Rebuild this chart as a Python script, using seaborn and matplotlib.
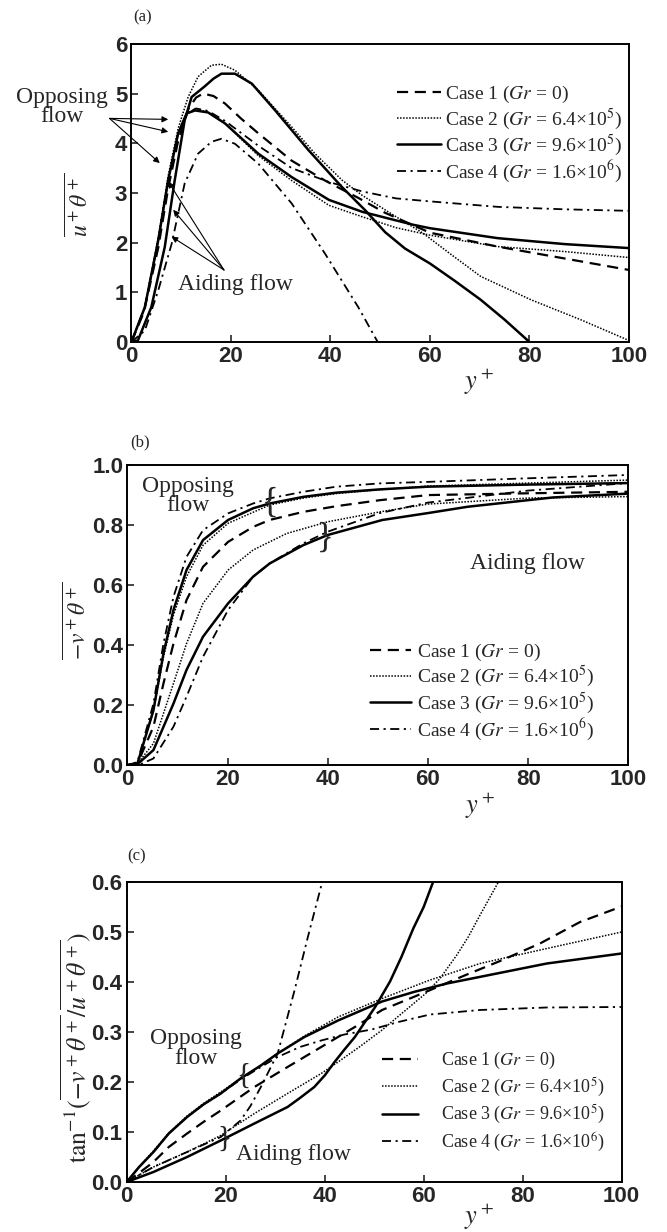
import matplotlib
matplotlib.use("Agg")
import matplotlib.pyplot as plt
import seaborn as sns
from matplotlib.lines import Line2D

# ---------------- data ----------------
# (a) u+theta+
a_c1_x = [0, 2.5, 5.4, 7.4, 9.4, 11.5, 13, 14.4, 16.5, 18.8, 22, 25.5, 32.2, 38.9, 45.6, 51, 60, 73.6, 87.1, 100]
a_c1_y = [0, 0.6, 1.9, 3.1, 4.05, 4.7, 4.92, 5.0, 4.95, 4.8, 4.5, 4.2, 3.65, 3.25, 2.9, 2.6, 2.2, 1.92, 1.68, 1.45]
a_c2o_x = [0, 2.7, 5.4, 7.4, 9.4, 11.1, 13, 15.4, 18.8, 25.5, 32.2, 39.7, 46.4, 53.2, 60, 73.6, 87.1, 100]
a_c2o_y = [0, 0.7, 2.1, 3.3, 4.2, 4.6, 4.7, 4.62, 4.4, 3.75, 3.25, 2.75, 2.52, 2.3, 2.15, 1.92, 1.82, 1.7]
a_c2a_x = [0, 2.7, 5.4, 7.4, 9.4, 11.4, 13.4, 16.1, 18.1, 20.8, 25.5, 32.2, 36.9, 42.3, 46.4, 53.2, 58.6, 64, 70.2, 80.3, 90.5, 100]
a_c2a_y = [0, 0.7, 2.05, 3.35, 4.3, 4.93, 5.34, 5.57, 5.59, 5.47, 5.07, 4.33, 3.79, 3.26, 2.95, 2.52, 2.19, 1.78, 1.32, 0.85, 0.44, 0.03]
a_c3o_x = [0, 2.7, 5.4, 7.4, 9.4, 11.1, 12.8, 15.4, 18.8, 25.5, 32.2, 39.7, 46.4, 56.6, 60, 73.6, 87.1, 100]
a_c3o_y = [0, 0.7, 2.05, 3.26, 4.2, 4.6, 4.66, 4.62, 4.4, 3.79, 3.32, 2.86, 2.62, 2.36, 2.29, 2.09, 1.97, 1.89]
a_c3a_x = [0, 1.3, 4.0, 6.7, 8.7, 10.7, 12.1, 14.8, 16.5, 18.1, 20.8, 24.2, 28.9, 35.6, 42.3, 47, 51, 55, 60, 65, 70.2, 75, 80]
a_c3a_y = [0, 0.03, 0.7, 1.91, 3.25, 4.46, 4.93, 5.15, 5.3, 5.4, 5.4, 5.2, 4.66, 3.86, 3.12, 2.65, 2.21, 1.88, 1.58, 1.23, 0.85, 0.45, 0]
a_c4o_x = [0, 2.7, 5.4, 7.4, 9.4, 11.1, 13, 15.4, 18.8, 25.5, 32.2, 39.7, 46.4, 53.2, 60, 73.6, 87.1, 100]
a_c4o_y = [0, 0.7, 2.05, 3.26, 4.2, 4.6, 4.7, 4.65, 4.45, 3.95, 3.5, 3.22, 3.03, 2.89, 2.83, 2.72, 2.67, 2.64]
a_c4a_x = [0, 2.7, 5.4, 8.1, 10.7, 13.4, 16.1, 18.1, 20.8, 25.5, 32.2, 38.9, 45.6, 49.5]
a_c4a_y = [0, 0.23, 1.04, 1.98, 3.19, 3.79, 4.03, 4.09, 3.99, 3.59, 2.79, 1.78, 0.7, 0]

# (b) -v+theta+
b_c1_x = [0, 2, 5.2, 7.2, 9.2, 11.8, 15.1, 20.1, 25.1, 28.4, 35.1, 41.7, 50.4, 60, 80, 100]
b_c1_y = [0, 0.005, 0.128, 0.272, 0.405, 0.55, 0.661, 0.744, 0.794, 0.817, 0.844, 0.863, 0.883, 0.9, 0.906, 0.911]
b_c2o_x = [0, 2, 5.2, 7.2, 9.2, 11.8, 15.1, 20.1, 28.4, 35.1, 41.7, 50.4, 60, 80, 100]
b_c2o_y = [0, 0.005, 0.18, 0.36, 0.5, 0.628, 0.733, 0.806, 0.867, 0.89, 0.905, 0.918, 0.93, 0.94, 0.95]
b_c2a_x = [0, 2, 5.2, 9.2, 11.8, 15.1, 20.1, 25.1, 31.8, 40, 50.4, 60, 80, 100]
b_c2a_y = [0, 0.005, 0.072, 0.272, 0.405, 0.539, 0.65, 0.717, 0.772, 0.811, 0.844, 0.87, 0.89, 0.895]
b_c3o_x = [0, 2, 5.2, 7.2, 9.2, 11.8, 15.1, 20.1, 25.1, 28.4, 35.1, 41.7, 50.4, 60, 80, 100]
b_c3o_y = [0, 0.005, 0.183, 0.372, 0.517, 0.65, 0.75, 0.817, 0.856, 0.872, 0.894, 0.908, 0.919, 0.928, 0.935, 0.94]
b_c3a_x = [0, 2, 5.2, 9.2, 11.8, 15.1, 20.1, 25.1, 28.4, 35.1, 40, 50.9, 60, 67.9, 84.9, 100]
b_c3a_y = [0, 0.003, 0.05, 0.205, 0.317, 0.428, 0.539, 0.628, 0.672, 0.733, 0.767, 0.817, 0.84, 0.861, 0.892, 0.905]
b_c4o_x = [0, 2, 5.2, 7.2, 9.2, 11.8, 15.1, 20.1, 25.1, 28.4, 35.1, 41.7, 50.4, 60, 80, 100]
b_c4o_y = [0, 0.01, 0.205, 0.405, 0.561, 0.694, 0.783, 0.839, 0.872, 0.889, 0.911, 0.928, 0.939, 0.944, 0.956, 0.967]
b_c4a_x = [0, 2.5, 5.2, 9.2, 11.8, 15.1, 20.1, 25.1, 28.4, 35.1, 40, 50.4, 60, 80, 100]
b_c4a_y = [0, 0.002, 0.022, 0.128, 0.228, 0.361, 0.517, 0.628, 0.672, 0.739, 0.778, 0.84, 0.875, 0.915, 0.94]

# (c) tan^-1(-v+theta+ / u+theta+)
c_c1_x = [0, 2.5, 5.4, 8.5, 12.2, 15.5, 19, 25.8, 32.5, 39.3, 46.1, 51.6, 60.4, 68.5, 75.2, 83.5, 91.6, 100]
c_c1_y = [0, 0.018, 0.04, 0.07, 0.097, 0.12, 0.143, 0.19, 0.23, 0.27, 0.31, 0.344, 0.38, 0.414, 0.441, 0.477, 0.52, 0.551]
c_c2o_x = [0, 2.5, 5.4, 8.5, 12.2, 15.5, 19, 23, 27.1, 30.5, 35.9, 42.7, 51.6, 61.3, 71.4, 84.9, 100]
c_c2o_y = [0, 0.03, 0.062, 0.098, 0.132, 0.157, 0.18, 0.207, 0.233, 0.257, 0.292, 0.33, 0.367, 0.404, 0.437, 0.467, 0.5]
c_c2a_x = [0, 5.4, 12.2, 19, 25.8, 32.5, 39.3, 42.7, 47, 51.6, 55.2, 60.4, 63.3, 66.7, 69, 71.4, 75.1]
c_c2a_y = [0, 0.03, 0.06, 0.093, 0.137, 0.177, 0.217, 0.24, 0.27, 0.304, 0.334, 0.377, 0.407, 0.454, 0.49, 0.534, 0.6]
c_c3o_x = [0, 2.5, 5.4, 8.5, 12.2, 15.5, 19, 23, 27.1, 30.5, 35.9, 42.7, 51.6, 58, 64.7, 74.8, 84.9, 100]
c_c3o_y = [0, 0.03, 0.06, 0.097, 0.13, 0.155, 0.177, 0.207, 0.233, 0.257, 0.29, 0.323, 0.361, 0.38, 0.397, 0.417, 0.437, 0.457]
c_c3a_x = [0, 5.4, 12.2, 19, 25.8, 32.5, 35, 37.9, 40, 42, 44, 46.1, 48, 50.2, 53.2, 55.5, 57.9, 60, 61.9]
c_c3a_y = [0, 0.02, 0.05, 0.083, 0.117, 0.15, 0.168, 0.19, 0.213, 0.24, 0.265, 0.29, 0.318, 0.35, 0.401, 0.45, 0.507, 0.55, 0.6]
c_c4o_x = [0, 2.5, 5.4, 8.5, 12.2, 15.5, 19, 23, 27.1, 30.5, 35, 39.3, 44, 49.5, 54.9, 61.3, 71.4, 84.9, 100]
c_c4o_y = [0, 0.03, 0.06, 0.097, 0.13, 0.155, 0.177, 0.205, 0.23, 0.25, 0.27, 0.283, 0.295, 0.305, 0.32, 0.335, 0.344, 0.349, 0.35]
c_c4a_x = [0, 5.4, 12.2, 19, 23, 25, 27.1, 30.5, 33.9, 36.6, 39.5]
c_c4a_y = [0, 0.03, 0.06, 0.09, 0.123, 0.152, 0.19, 0.257, 0.383, 0.49, 0.6]

case_labels = [
    r"Case 1 ($Gr$ = 0)",
    r"Case 2 ($Gr$ = 6.4×10$^5$)",
    r"Case 3 ($Gr$ = 9.6×10$^5$)",
    r"Case 4 ($Gr$ = 1.6×10$^6$)",
]

# ---------------- style ----------------
sns.set_theme(style="ticks")
plt.rcParams["font.family"] = ["Liberation Serif", "DejaVu Serif"]
plt.rcParams["mathtext.fontset"] = "stix"

styles = {
    1: dict(linestyle=(0, (5, 3)), linewidth=1.6),
    2: dict(linestyle=(0, (1, 1)), linewidth=1.1),
    3: dict(linestyle="-", linewidth=1.8),
    4: dict(linestyle=(0, (5, 2.5, 1.2, 2.5)), linewidth=1.3),
}

fig = plt.figure(figsize=(6.67, 12.32), dpi=100)
ax_a = fig.add_axes([0.197, 0.7224, 0.746, 0.242])
ax_b = fig.add_axes([0.191, 0.379, 0.751, 0.2435])
ax_c = fig.add_axes([0.190, 0.0406, 0.742, 0.2435])

tick_font = dict(family="Liberation Sans", weight="bold", size=16)


def draw(ax, curves):
    for case, xs, ys in curves:
        sns.lineplot(x=xs, y=ys, ax=ax, color="black", estimator=None,
                     **styles[case])


def style_axes(ax, ylim, yticks, yfmt):
    ax.set_xlim(0, 100)
    ax.set_ylim(*ylim)
    ax.set_xticks([0, 20, 40, 60, 80, 100])
    ax.set_yticks(yticks)
    ax.set_yticklabels([yfmt.format(v) for v in yticks], fontdict=tick_font)
    ax.set_xticklabels(["0", "20", "40", "60", "80", "100"], fontdict=tick_font)
    ax.tick_params(direction="in", length=5, width=1.2, pad=3,
                   top=False, right=False)
    for s in ax.spines.values():
        s.set_linewidth(1.4)
        s.set_color("black")
    ax.set_xlabel(r"$y^+$", fontsize=19)


def legend(ax, anchor, size, hlen, hpad, spacing):
    handles = [Line2D([], [], color="black", **styles[i]) for i in (1, 2, 3, 4)]
    ax.legend(handles, case_labels, loc="upper left", bbox_to_anchor=anchor,
              frameon=False, fontsize=size, handlelength=hlen,
              handletextpad=hpad, labelspacing=spacing, borderpad=0,
              borderaxespad=0)


arrow = dict(arrowstyle="-|>", color="black", lw=0.8, mutation_scale=9,
             shrinkA=0, shrinkB=0)

# ---------------- (a) ----------------
draw(ax_a, [(1, a_c1_x, a_c1_y), (2, a_c2o_x, a_c2o_y), (2, a_c2a_x, a_c2a_y),
            (3, a_c3o_x, a_c3o_y), (3, a_c3a_x, a_c3a_y),
            (4, a_c4o_x, a_c4o_y), (4, a_c4a_x, a_c4a_y)])
style_axes(ax_a, (0, 6), [0, 1, 2, 3, 4, 5, 6], "{:.0f}")
ax_a.set_ylabel(r"$\overline{u^+\theta^+}$", fontsize=17)
ax_a.yaxis.set_label_coords(-0.077, 0.46)
ax_a.xaxis.set_label_coords(0.70, -0.085)
legend(ax_a, (0.533, 0.865), 14, 2.3, 0.2, 0.05)
ax_a.text(-14, 4.73, "Opposing\nflow", fontsize=17, ha="center", va="center",
          linespacing=0.9, clip_on=False)
for end in [(7.4, 4.48), (7.4, 4.23), (5.7, 3.6)]:
    ax_a.annotate("", xy=end, xytext=(-4.4, 4.5), arrowprops=arrow,
                  annotation_clip=False)
ax_a.text(20.9, 1.15, "Aiding flow", fontsize=17, ha="center", va="center")
for end in [(7.4, 3.23), (8.4, 2.66), (8.05, 2.12)]:
    ax_a.annotate("", xy=end, xytext=(18.6, 1.45), arrowprops=arrow)

# ---------------- (b) ----------------
draw(ax_b, [(1, b_c1_x, b_c1_y), (2, b_c2o_x, b_c2o_y), (2, b_c2a_x, b_c2a_y),
            (3, b_c3o_x, b_c3o_y), (3, b_c3a_x, b_c3a_y),
            (4, b_c4o_x, b_c4o_y), (4, b_c4a_x, b_c4a_y)])
style_axes(ax_b, (0, 1.0), [0, 0.2, 0.4, 0.6, 0.8, 1.0], "{:.1f}")
ax_b.set_ylabel(r"$\overline{-v^+\theta^+}$", fontsize=17)
ax_b.yaxis.set_label_coords(-0.072, 0.48)
ax_b.xaxis.set_label_coords(0.705, -0.085)
legend(ax_b, (0.484, 0.41), 14, 2.1, 0.35, 0.05)
ax_b.text(12.1, 0.897, "Opposing\nflow", fontsize=17, ha="center", va="center",
          linespacing=0.9)
ax_b.text(79.8, 0.673, "Aiding flow", fontsize=17, ha="center", va="center")
ax_b.text(28.5, 0.873, "{", fontsize=25, ha="center", va="center")
ax_b.text(39.5, 0.755, "}", fontsize=25, ha="center", va="center")

# ---------------- (c) ----------------
draw(ax_c, [(1, c_c1_x, c_c1_y), (2, c_c2o_x, c_c2o_y), (2, c_c2a_x, c_c2a_y),
            (3, c_c3o_x, c_c3o_y), (3, c_c3a_x, c_c3a_y),
            (4, c_c4o_x, c_c4o_y), (4, c_c4a_x, c_c4a_y)])
style_axes(ax_c, (0, 0.6), [0, 0.1, 0.2, 0.3, 0.4, 0.5, 0.6], "{:.1f}")
ax_c.set_ylabel(r"$\mathrm{tan}^{-1}(\overline{-v^+\theta^+}/\overline{u^+\theta^+})$",
                fontsize=18.5)
ax_c.yaxis.set_label_coords(-0.068, 0.45)
ax_c.xaxis.set_label_coords(0.712, -0.068)
legend(ax_c, (0.515, 0.44), 13, 2.0, 1.3, 0.25)
ax_c.text(14, 0.267, "Opposing\nflow", fontsize=17, ha="center", va="center",
          linespacing=0.9)
ax_c.text(33.6, 0.054, "Aiding flow", fontsize=17, ha="center", va="center")
ax_c.text(23.6, 0.212, "{", fontsize=21, ha="center", va="center")
ax_c.text(19.7, 0.086, "}", fontsize=21, ha="center", va="center")

# panel letters
fig.text(0.214, 0.986, "(a)", fontsize=12, ha="center", va="center")
fig.text(0.21, 0.641, "(b)", fontsize=12, ha="center", va="center")
fig.text(0.204, 0.305, "(c)", fontsize=12, ha="center", va="center")

fig.savefig("out.png", dpi=100)
